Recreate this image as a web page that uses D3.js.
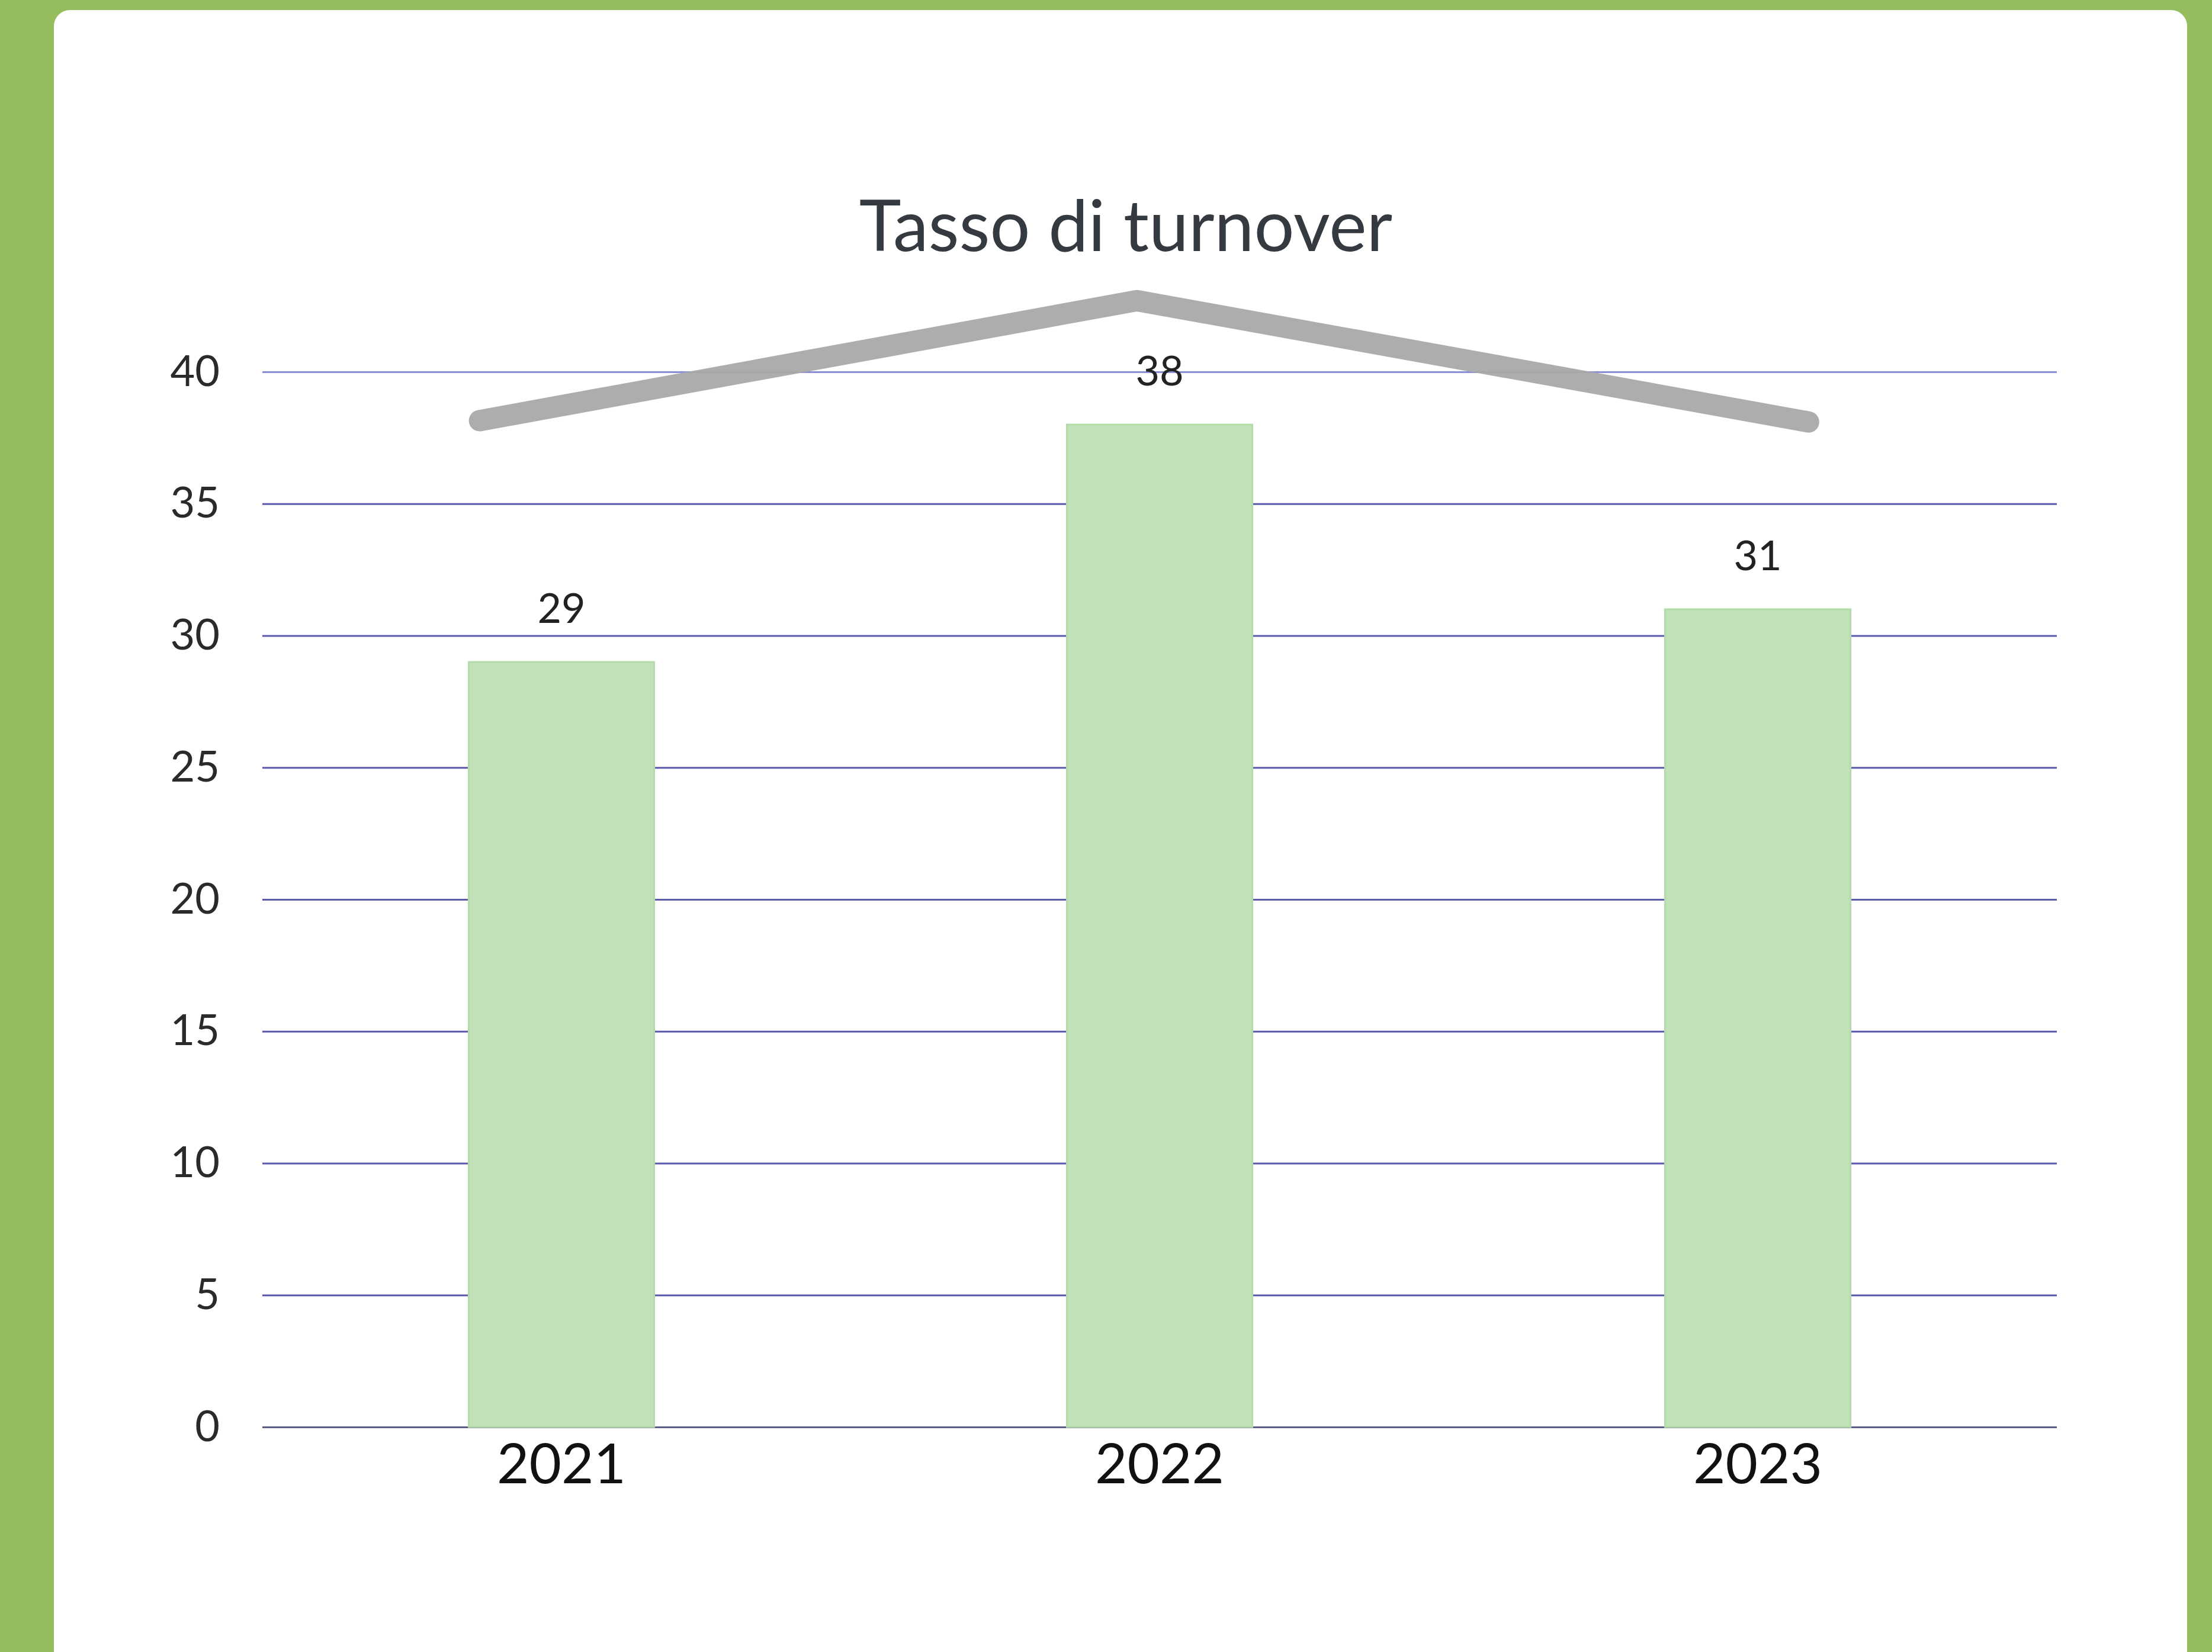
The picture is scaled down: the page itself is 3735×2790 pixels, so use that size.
<!DOCTYPE html>
<html>
<head>
<meta charset="utf-8">
<script src="https://cdn.jsdelivr.net/npm/d3@7"></script>
<style>
  html, body { margin: 0; padding: 0; background: #95bd5e; }
  svg { display: block; }
</style>
</head>
<body>
<svg id="canvas"></svg>
<script>
// data
let years = ["2021", "2022", "2023"]
let turnover = [29, 38, 31]
let yTicks = [0, 5, 10, 15, 20, 25, 30, 35, 40]
// grey roof line: position in category units, value in y units
let roofPos = [-0.137, 0.962, 2.085]
let roofVal = [38.15, 42.7, 38.1]

let W = 3735, H = 2790
let plot = { left: 443, right: 3473, top: 628, bottom: 2410 }

let canvas = d3.select("#canvas").attr("width", W).attr("height", H)

// white card
canvas.append("rect")
    .attr("x", 91).attr("y", 17)
    .attr("width", 3602).attr("height", H + 60)
    .attr("rx", 27)
    .attr("fill", "#ffffff")

let x = d3.scaleBand()
    .domain(years)
    .range([plot.left, plot.right])
    .paddingInner(0.69)
    .paddingOuter(0.345)

let y = d3.scaleLinear()
    .domain([0, 40])
    .range([plot.bottom, plot.top])

// category index -> pixel, for the roof line
let xi = d3.scaleLinear()
    .domain([0, years.length - 1])
    .range([x(years[0]) + x.bandwidth() / 2, x(years[years.length - 1]) + x.bandwidth() / 2])

// title
canvas.append("text")
    .attr("x", 1901).attr("y", 424)
    .attr("text-anchor", "middle")
    .attr("font-family", "Lato, 'Open Sans', sans-serif")
    .attr("font-size", 120)
    .attr("fill", "#343a40")
    .text("Tasso di turnover")

// gridlines + y labels via axis
let yAxis = d3.axisLeft(y)
    .tickValues(yTicks)
    .tickSize(-(plot.right - plot.left))
    .tickPadding(72)

let gy = canvas.append("g")
    .attr("transform", "translate(" + plot.left + ",0)")
    .call(yAxis)

gy.select(".domain").remove()
gy.selectAll(".tick line")
    .attr("stroke", (d) => d === 0 ? "#5c5c8a" : (d === 40 ? "#8a90d8" : "#5a5aae"))
    .attr("stroke-width", 3)
gy.selectAll(".tick text")
    .attr("font-family", "Lato, 'Open Sans', sans-serif")
    .attr("font-size", 72)
    .attr("fill", "#2a2a2a")

// bars
canvas.selectAll(".bar")
    .data(turnover)
    .enter()
    .append("rect")
    .attr("class", "bar")
    .attr("x", (d, i) => x(years[i]))
    .attr("y", (d) => y(d))
    .attr("width", x.bandwidth())
    .attr("height", (d) => y(0) - y(d))
    .attr("fill", "#c2e1ba")
    .attr("stroke", "#b4dca9")
    .attr("stroke-width", 3)

// value labels
canvas.selectAll(".val")
    .data(turnover)
    .enter()
    .append("text")
    .attr("class", "val")
    .attr("x", (d, i) => x(years[i]) + x.bandwidth() / 2)
    .attr("y", (d) => y(d) - 66)
    .attr("text-anchor", "middle")
    .attr("font-family", "Lato, 'Open Sans', sans-serif")
    .attr("font-size", 70)
    .attr("fill", "#222222")
    .text((d) => d)

// roof line
let roofLine = d3.line()
    .x((d, i) => xi(roofPos[i]))
    .y((d) => y(d))

canvas.append("path")
    .datum(roofVal)
    .attr("d", roofLine)
    .attr("fill", "none")
    .attr("stroke", "#a9a9a9")
    .attr("stroke-width", 36)
    .attr("stroke-linecap", "round")
    .attr("stroke-linejoin", "round")
    .attr("opacity", 0.95)

// year labels
let xAxis = d3.axisBottom(x).tickSize(0).tickPadding(28)
let gx = canvas.append("g")
    .attr("transform", "translate(0," + plot.bottom + ")")
    .call(xAxis)
gx.select(".domain").remove()
gx.selectAll(".tick text")
    .attr("font-family", "Lato, 'Open Sans', sans-serif")
    .attr("font-size", 94)
    .attr("fill", "#111111")
</script>
</body>
</html>
